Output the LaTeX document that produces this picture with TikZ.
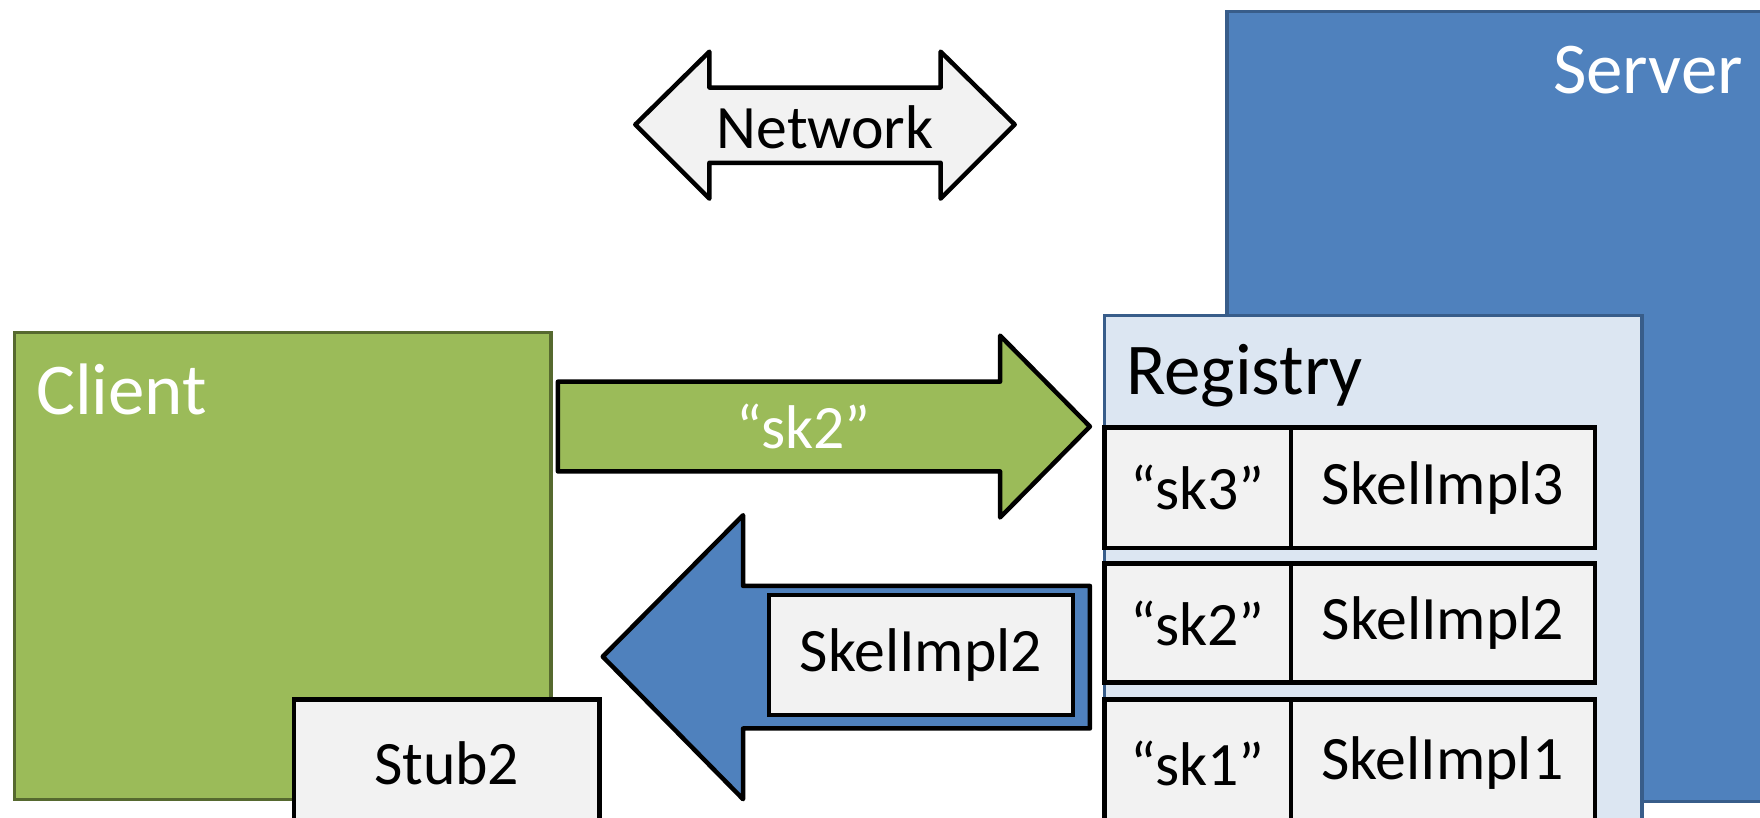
\documentclass[tikz,border=0pt]{standalone}
\usepackage{fontspec}
\setmainfont{Carlito}
\definecolor{srvblue}{HTML}{4F81BD}
\definecolor{srvedge}{HTML}{385D8A}
\definecolor{regfill}{HTML}{DCE6F2}
\definecolor{cligreen}{HTML}{9BBB59}
\definecolor{cliedge}{HTML}{56692F}
\definecolor{boxgray}{HTML}{F2F2F2}
\tikzset{
  container/.style={draw, line width=3pt, anchor=north west, inner sep=0pt, outer sep=0pt},
  cellbox/.style={draw=black, fill=boxgray, line width=4pt, anchor=north west, inner sep=0pt, outer sep=0pt,
    font=\fontsize{55}{66}\selectfont, text=black},
  blockarrow/.style={draw=black, line width=4pt, line join=round},
  title/.style={font=\fontsize{65}{78}\selectfont, inner sep=0pt},
  lbl/.style={font=\fontsize{55}{66}\selectfont, inner sep=0pt}
}
\begin{document}
\begin{tikzpicture}[x=1pt,y=-1pt]
\useasboundingbox (0,0) rectangle (1568,728);
\clip (0,0) rectangle (1568,728);

% Server
\node[container, draw=srvedge, fill=srvblue, minimum width=520pt, minimum height=704pt] (server) at (1093,10) {};
\node[title, text=white, anchor=east] (servertxt) at (1553,62) {Server};

% Registry
\node[container, draw=srvedge, fill=regfill, minimum width=479pt, minimum height=500pt] (registry) at (984,281) {};
\node[title, text=black, anchor=west] (registrytxt) at (1003,335) {Registry};

% Table rows
\node[cellbox, minimum width=166pt, minimum height=107pt] (k3) at (984,381) {“sk3”};
\node[cellbox, minimum width=271pt, minimum height=107pt] (v3) at (1150,381) {SkelImpl3};
\node[cellbox, minimum width=166pt, minimum height=106pt] (k2) at (984,502) {“sk2”};
\node[cellbox, minimum width=271pt, minimum height=106pt] (v2) at (1150,502) {SkelImpl2};
\node[cellbox, minimum width=166pt, minimum height=114pt] (k1) at (984,623) {};
\node[cellbox, minimum width=271pt, minimum height=114pt] (v1) at (1150,623) {};
\node[lbl] (k1txt) at (1067,680) {“sk1”};
\node[lbl] (v1txt) at (1285,680) {SkelImpl1};

% Client
\node[container, draw=cliedge, fill=cligreen, minimum width=478pt, minimum height=416pt] (client) at (13,296) {};
\node[title, text=white, anchor=west] (clienttxt) at (32,347) {Client};

% Stub2
\node[cellbox, minimum width=272pt, minimum height=120pt] (stubbox) at (262,623) {};
\node[lbl] (stubtxt) at (398,680) {Stub2};

% Network double arrow
\filldraw[blockarrow, fill=boxgray] (566,111) -- (632,46) -- (632,78) -- (838,78) -- (838,46)
  -- (904,111) -- (838,177) -- (838,145) -- (632,145) -- (632,177) -- cycle;
\node[lbl] (network) at (735,113) {Network};

% Request arrow
\filldraw[blockarrow, fill=cligreen] (497,340) -- (891,340) -- (891,299) -- (971,380)
  -- (891,461) -- (891,420) -- (497,420) -- cycle;
\node[lbl, text=white] (req) at (716,380) {“sk2”};

% Reply arrow
\filldraw[blockarrow, fill=srvblue] (971,522) -- (662,522) -- (662,459) -- (537,585)
  -- (662,712) -- (662,649) -- (971,649) -- cycle;
\node[cellbox, minimum width=271pt, minimum height=107pt] (reply) at (685,530) {SkelImpl2};
\end{tikzpicture}
\end{document}
